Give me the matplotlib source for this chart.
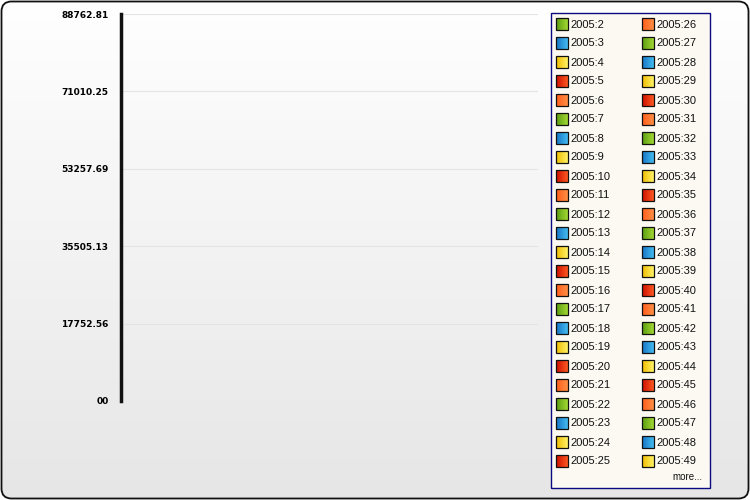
import numpy as np
import matplotlib
matplotlib.use("Agg")
import matplotlib.pyplot as plt
from matplotlib.patches import FancyBboxPatch, Rectangle
from matplotlib.colors import LinearSegmentedColormap

# ---- data ----
series_labels = ["2005:2", "2005:3", "2005:4", "2005:5", "2005:6", "2005:7", "2005:8",
                 "2005:9", "2005:10", "2005:11", "2005:12", "2005:13", "2005:14", "2005:15",
                 "2005:16", "2005:17", "2005:18", "2005:19", "2005:20", "2005:21", "2005:22",
                 "2005:23", "2005:24", "2005:25", "2005:26", "2005:27", "2005:28", "2005:29",
                 "2005:30", "2005:31", "2005:32", "2005:33", "2005:34", "2005:35", "2005:36",
                 "2005:37", "2005:38", "2005:39", "2005:40", "2005:41", "2005:42", "2005:43",
                 "2005:44", "2005:45", "2005:46", "2005:47", "2005:48", "2005:49"]
series_values = []  # no visible marks in the reference
y_ticks = [0, 17752.56, 35505.13, 53257.69, 71010.25, 88762.81]
y_tick_labels = ["00", "17752.56", "35505.13", "53257.69", "71010.25", "88762.81"]
y_max = 88762.81

# palette cycle (dark, light) pairs for gradient swatches
palette = [("#5a9c12", "#a2d832"),   # green
           ("#1674c4", "#44bcf2"),   # blue
           ("#f0bc00", "#fff266"),   # yellow
           ("#cc0e00", "#ff5a22"),   # red
           ("#ff5e1c", "#ff8e44")]   # orange

W, H = 750, 500
fig = plt.figure(figsize=(W / 100, H / 100), dpi=100)

# ---- background with rounded border ----
bg = fig.add_axes([0, 0, 1, 1])
bg.set_xlim(0, W)
bg.set_ylim(H, 0)
bg.axis("off")
grad = np.linspace(0, 1, 256).reshape(-1, 1)
cmap_bg = LinearSegmentedColormap.from_list("bg", ["#ffffff", "#e6e6e6"])
im = bg.imshow(grad, cmap=cmap_bg, extent=[0, W, H, 0], aspect="auto", zorder=0)
border = FancyBboxPatch((1.5, 1.5), W - 3, H - 3, boxstyle="round,pad=0,rounding_size=10",
                        facecolor="none", edgecolor="#111111", linewidth=1.3, zorder=2)
bg.add_patch(border)
im.set_clip_path(border)

# ---- plot area ----
L, R, T, B = 121, 538, 14, 401
ax = fig.add_axes([L / W, 1 - B / H, (R - L) / W, (B - T) / H])
ax.patch.set_alpha(0)
ax.set_ylim(0, y_max)
ax.set_xlim(0, 1)
ax.set_yticks(y_ticks)
ax.set_yticklabels(y_tick_labels, fontsize=6.5, fontweight="bold")
ax.set_xticks([])
ax.tick_params(axis="y", length=0, pad=9)
ax.grid(axis="y", color="#e4e4e4", linewidth=0.8)
for s in ["top", "right", "bottom"]:
    ax.spines[s].set_visible(False)
ax.spines["left"].set_linewidth(2.5)
ax.spines["left"].set_color("#111111")

# ---- legend ----
lg = fig.add_axes([0, 0, 1, 1])
lg.set_xlim(0, W)
lg.set_ylim(H, 0)
lg.axis("off")
lg.patch.set_alpha(0)
lg.add_patch(Rectangle((550.5, 12.5), 159, 475, facecolor="#fcf9f2", edgecolor="#0a0a80",
                       linewidth=1.0, zorder=1))
col_x = [556, 642]
row0, dy = 24, 19
rows = 24
for i, lab in enumerate(series_labels):
    c, r = divmod(i, rows)
    x = col_x[c]
    yc = row0 + r * dy
    dark, light = palette[i % len(palette)]
    cm = LinearSegmentedColormap.from_list("sw", [dark, light])
    lg.imshow(np.linspace(0, 1, 32).reshape(1, -1), cmap=cm,
              extent=[x, x + 12, yc + 6, yc - 6], aspect="auto", zorder=2)
    lg.add_patch(Rectangle((x, yc - 6), 12, 12, facecolor="none", edgecolor="#111111",
                           linewidth=0.9, zorder=3))
    lg.text(x + 14, yc + 0.5, lab, fontsize=8, family="Liberation Sans", va="center",
            ha="left", color="#111111", zorder=3)
lg.text(702, 477, "more...", fontsize=7, family="Liberation Sans", va="center",
        ha="right", color="#111111")
lg.set_xlim(0, W)
lg.set_ylim(H, 0)

fig.savefig("out.png", dpi=100)
